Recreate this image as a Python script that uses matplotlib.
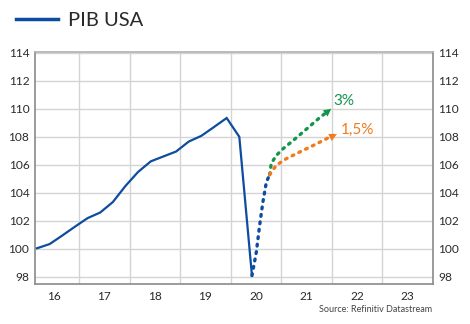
import matplotlib
matplotlib.use("Agg")
import matplotlib.pyplot as plt
from matplotlib.lines import Line2D
import numpy as np

plt.rcParams['font.family'] = ['Lato', 'DejaVu Sans']

# --- data ---
gdp = [100.05, 100.35, 100.96, 101.59, 102.2, 102.6, 103.35, 104.5, 105.5,
       106.25, 106.6, 106.95, 107.66, 108.07, 108.7, 109.34, 108.0, 98.1]
start_year = 2016.17          # first quarter position
quarter_step = 0.25

rebound_t = [2020.42, 2020.506, 2020.571, 2020.636, 2020.704, 2020.77]
rebound_v = [98.1, 99.76, 101.66, 103.34, 104.76, 105.3]

high_t = [2020.77, 2020.802, 2020.901, 2021.032, 2021.229, 2021.494, 2021.757, 2021.988]
high_v = [105.3, 106.1, 106.67, 107.14, 107.72, 108.54, 109.36, 110.0]

low_t = [2020.77, 2020.901, 2021.099, 2021.362, 2021.692, 2022.099]
low_v = [105.3, 105.97, 106.44, 106.91, 107.49, 108.19]

year_labels = ['16', '17', '18', '19', '20', '21', '22', '23']
yticks = [98, 100, 102, 104, 106, 108, 110, 112, 114]

blue = '#0d4c9e'
green = '#14964a'
orange = '#f07a1e'
text_c = '#2a2a2a'

fig = plt.figure(figsize=(4.70, 3.24), dpi=100)
ax = fig.add_axes([35/470, 1-284/324, (433-35)/470, (284-52)/324])

t = start_year + np.arange(len(gdp)) * quarter_step
ax.plot(t, gdp, color=blue, lw=1.6, solid_joinstyle='miter', zorder=4)

dots = (0, (0.55, 1.7))
ax.plot(rebound_t, rebound_v, color=blue, lw=2.4, linestyle=dots,
        dash_capstyle='round', zorder=4)
ax.plot(high_t[:-1] + [high_t[-1] - 0.05], high_v[:-1] + [high_v[-1] - 0.13],
        color=green, lw=2.4, linestyle=dots, dash_capstyle='round', zorder=3)
ax.plot(low_t[:-1] + [low_t[-1] - 0.07], low_v[:-1] + [low_v[-1] - 0.08],
        color=orange, lw=2.4, linestyle=dots, dash_capstyle='round', zorder=3)

for tt, vv, c in [(high_t, high_v, green), (low_t, low_v, orange)]:
    ax.annotate('', xy=(tt[-1], vv[-1]), xytext=(tt[-2], vv[-2]),
                arrowprops=dict(arrowstyle='-|>,head_length=0.55,head_width=0.28',
                                color=c, lw=0, shrinkA=0, shrinkB=0), zorder=5)

ax.text(2022.03, 110.55, '3%', color=green, fontsize=11, va='center', ha='left')
ax.text(2022.17, 108.48, '1,5%', color=orange, fontsize=11, va='center', ha='left')

ax.set_xlim(2016.13, 2024.0)
ax.set_ylim(97.5, 114.05)

ax.set_yticks(yticks)
ax.set_yticklabels([str(v) for v in yticks])
ax.set_xticks(np.arange(2017, 2024), minor=False)
ax.set_xticklabels([])
ax.set_xticks(np.arange(2016.5, 2024, 1.0), minor=True)
ax.set_xticklabels(year_labels, minor=True)
ax.tick_params(axis='x', which='both', length=0, pad=5, labelsize=8.6, colors=text_c)
ax.tick_params(axis='y', which='both', length=0, pad=4, labelsize=8.6, colors=text_c,
               labelright=True, right=False)
ax.grid(True, axis='x', which='major', color='#d4d4d4', lw=1.0)
ax.grid(True, axis='y', which='major', color='#d4d4d4', lw=1.0)
ax.set_axisbelow(True)
for s in ax.spines.values():
    s.set_color('#8a8a8a')
    s.set_linewidth(1.2)
ax.spines['top'].set_color('#b0b0b0')

# legend
fig.add_artist(Line2D([16/470, 58/470], [1-19/324, 1-19/324], color=blue, lw=2.5,
                      transform=fig.transFigure))
fig.text(68/470, 1-20/324, 'PIB USA', fontsize=14.5, color=text_c,
         va='center', ha='left')

fig.text(432/470, 1-309/324, 'Source: Refinitiv Datastream', fontsize=6.5,
         color='#444444', va='center', ha='right')

fig.savefig('out.png', dpi=100)
